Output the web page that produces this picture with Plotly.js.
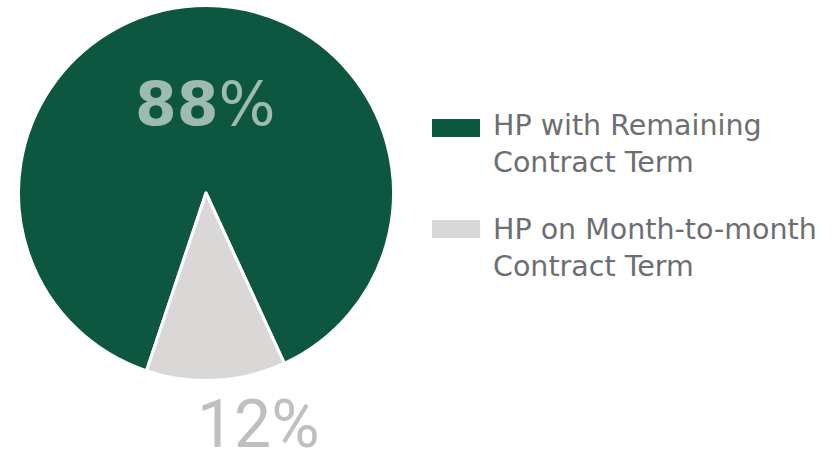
<!DOCTYPE html>
<html>
<head>
<meta charset="utf-8">
<script src="https://cdn.plot.ly/plotly-3.0.1.min.js"></script>
<style>
  html, body { margin: 0; padding: 0; background: #fff; }
  #chart { width: 834px; height: 454px; }
</style>
</head>
<body>
<div id="chart"></div>
<script>
const labels = ['HP with Remaining<br>Contract Term', 'HP on Month-to-month<br>Contract Term'];
const values = [88, 12];
const colors = ['#0d5640', '#d9d8d6'];
const pctColors = ['#9dbbae', '#bebfbe'];

const W = 834, H = 454;
const px = (x) => x / W;
const py = (y) => 1 - y / H;

const trace = {
  type: 'pie',
  labels: labels,
  values: values,
  sort: false,
  direction: 'clockwise',
  rotation: -161.5,
  textinfo: 'none',
  hoverinfo: 'label+percent',
  marker: { colors: colors, line: { color: '#ffffff', width: 3 } },
  domain: { x: [px(18.5), px(393.5)], y: [py(380.5), py(5.5)] },
};

// legend drawn by hand so the swatches can be wide bars
const shapes = [];
const annotations = [];
const legendRows = [128, 229];
const legendText = [143.5, 248];
labels.forEach((lab, i) => {
  shapes.push({
    type: 'rect', xref: 'paper', yref: 'paper',
    x0: px(432), x1: px(480),
    y0: py(legendRows[i] + 9), y1: py(legendRows[i] - 9),
    fillcolor: colors[i], line: { width: 0 },
  });
  annotations.push({
    xref: 'paper', yref: 'paper',
    x: px(491), y: py(legendText[i]),
    xanchor: 'left', yanchor: 'middle', align: 'left',
    showarrow: false, text: lab,
    font: { family: 'DejaVu Sans', size: 28.5, color: '#6d6e71' },
  });
});

// percentage labels
annotations.push({
  xref: 'paper', yref: 'paper', x: px(205.5), y: py(104),
  xanchor: 'center', yanchor: 'middle', showarrow: false,
  text: '<b>' + values[0] + '</b>%',
  font: { family: 'DejaVu Sans', size: 60, color: pctColors[0] },
});
annotations.push({
  xref: 'paper', yref: 'paper', x: px(258.5), y: py(424),
  xanchor: 'center', yanchor: 'middle', showarrow: false,
  text: values[1] + '%',
  font: { family: 'Roboto', size: 66, color: pctColors[1] },
});

const layout = {
  width: W, height: H,
  margin: { l: 0, r: 0, t: 0, b: 0 },
  showlegend: false,
  paper_bgcolor: '#ffffff',
  shapes: shapes,
  annotations: annotations,
};

Plotly.newPlot('chart', [trace], layout, { displayModeBar: false, staticPlot: true });
</script>
</body>
</html>
